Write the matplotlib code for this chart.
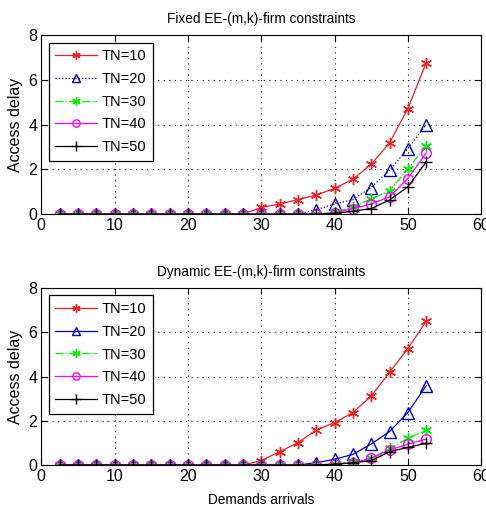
"""Access delay vs demand arrivals, fixed and dynamic EE-(m,k)-firm constraints."""

import matplotlib
matplotlib.use("Agg")
import matplotlib.pyplot as plt
import numpy as np

plt.rcParams["font.family"] = ["Liberation Sans", "DejaVu Sans"]

# demand arrivals (x positions of the samples)
arrivals = np.arange(1, 22) * 2.5
zeros_11 = [0.0] * 11

series_labels = ["TN=10", "TN=20", "TN=30", "TN=40", "TN=50"]

# Fixed EE-(m,k)-firm constraints
fixed_tn10 = zeros_11 + [0.3, 0.45, 0.65, 0.85, 1.15, 1.56, 2.23, 3.18, 4.72, 6.77]
fixed_tn20 = zeros_11 + [0.0, 0.0, 0.0, 0.2, 0.45, 0.65, 1.19, 1.96, 2.93, 4.0]
fixed_tn30 = zeros_11 + [0.0, 0.0, 0.0, 0.0, 0.08, 0.33, 0.68, 1.04, 2.02, 3.05]
fixed_tn40 = zeros_11 + [0.0, 0.0, 0.0, 0.0, 0.05, 0.25, 0.45, 0.77, 1.59, 2.74]
fixed_tn50 = zeros_11 + [0.0, 0.0, 0.0, 0.0, 0.03, 0.13, 0.25, 0.63, 1.22, 2.33]

# Dynamic EE-(m,k)-firm constraints
dyn_tn10 = zeros_11 + [0.2, 0.6, 1.01, 1.58, 1.92, 2.37, 3.12, 4.19, 5.27, 6.5]
dyn_tn20 = zeros_11 + [0.0, 0.0, 0.0, 0.1, 0.26, 0.48, 0.95, 1.51, 2.37, 3.59]
dyn_tn30 = zeros_11 + [0.0, 0.0, 0.0, 0.0, 0.05, 0.15, 0.3, 0.75, 1.2, 1.58]
dyn_tn40 = zeros_11 + [0.0, 0.0, 0.0, 0.0, 0.05, 0.1, 0.3, 0.68, 0.94, 1.18]
dyn_tn50 = zeros_11 + [0.0, 0.0, 0.0, 0.0, 0.03, 0.1, 0.2, 0.6, 0.8, 0.98]

asterisk = (6, 2, 0)

fixed_styles = [
    dict(color="#ee2020", linestyle="-", marker=asterisk, markersize=8),
    dict(color="#0000aa", linestyle=":", marker="^", markersize=8, markerfacecolor="none"),
    dict(color="#00ee00", linestyle="-.", marker=asterisk, markersize=8),
    dict(color="#ff00ff", linestyle="-", marker="o", markersize=7, markerfacecolor="none"),
    dict(color="#000000", linestyle="-", marker="+", markersize=9),
]
dyn_styles = [dict(s) for s in fixed_styles]
dyn_styles[1]["linestyle"] = "-"
dyn_styles[1]["color"] = "#0000cc"


def draw_panel(ax, series, styles, title, xlabel=None):
    for values, label, style in zip(series, series_labels, styles):
        ax.plot(arrivals, values, label=label, linewidth=0.9, markeredgewidth=1.0, **style)
    ax.set_xlim(0, 60)
    ax.set_ylim(0, 8)
    ax.set_xticks(range(0, 61, 10))
    ax.set_yticks(range(0, 9, 2))
    ax.grid(True, color="black", linestyle=(0, (1, 4)), linewidth=0.8)
    ax.tick_params(direction="in", top=True, right=True, labelsize=11.5, length=4, pad=3)
    ax.set_title(title, fontsize=9.8, pad=9)
    ax.set_ylabel("Access delay", fontsize=11.5, labelpad=4)
    if xlabel:
        ax.set_xlabel(xlabel, fontsize=9.8, labelpad=6)
    for spine in ax.spines.values():
        spine.set_linewidth(0.8)
    leg = ax.legend(loc="upper left", fontsize=10.5, fancybox=False, framealpha=1,
                    edgecolor="black", borderaxespad=0.5, handlelength=2.9,
                    labelspacing=0.6, borderpad=0.45, handletextpad=0.3,
                    markerscale=0.75)
    leg.get_frame().set_linewidth(0.9)


fig = plt.figure(figsize=(4.86, 5.11), dpi=100)
ax_top = fig.add_axes([0.085, 0.581, 0.905, 0.35])
ax_bot = fig.add_axes([0.085, 0.090, 0.905, 0.346])

draw_panel(ax_top, [fixed_tn10, fixed_tn20, fixed_tn30, fixed_tn40, fixed_tn50],
           fixed_styles, "Fixed EE-(m,k)-firm constraints")
draw_panel(ax_bot, [dyn_tn10, dyn_tn20, dyn_tn30, dyn_tn40, dyn_tn50],
           dyn_styles, "Dynamic EE-(m,k)-firm constraints", xlabel="Demands arrivals")

fig.savefig("out.png", dpi=100)
